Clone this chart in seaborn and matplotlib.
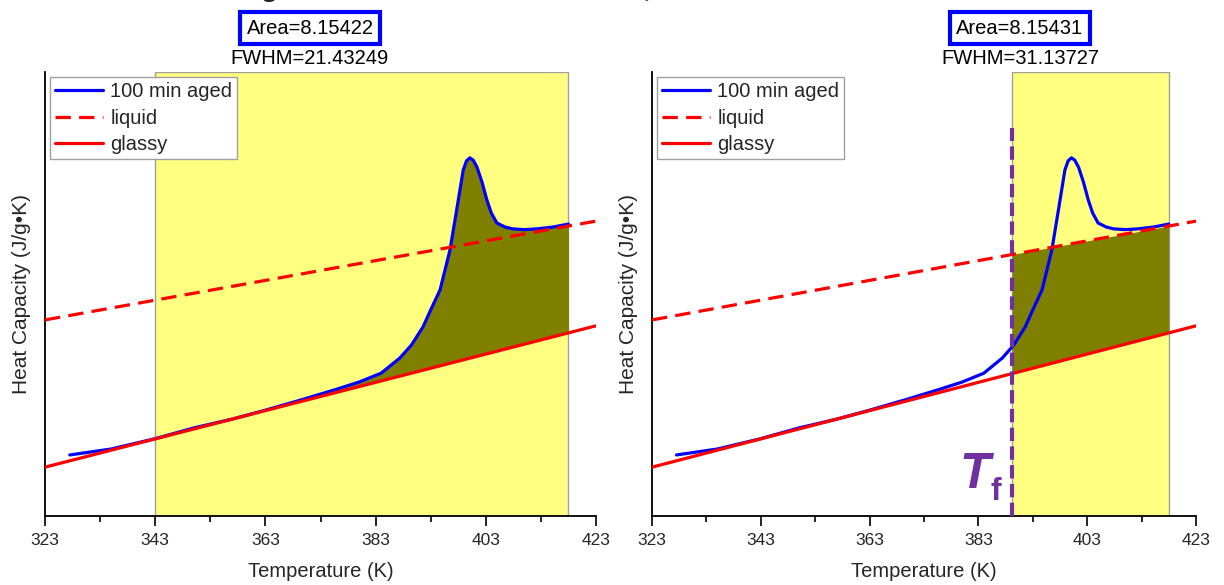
import numpy as np
import matplotlib
matplotlib.use("Agg")
import matplotlib.pyplot as plt
import seaborn as sns

# ---------------- data ----------------
T_aged = [327.5, 335, 343, 350, 357, 363, 370, 376, 380, 384, 387.4, 389.5,
          391.6, 393, 394.7, 396.5, 397.8, 398.9, 399.5, 400.1, 400.7, 401.4,
          402.3, 403.2, 404, 405, 406.5, 407.9, 410, 412.3, 415.2, 418]
cp_aged = [1.365, 1.381, 1.409, 1.438, 1.462, 1.486, 1.516, 1.543, 1.562, 1.586,
           1.627, 1.662, 1.711, 1.757, 1.811, 1.919, 2.035, 2.135, 2.160, 2.168,
           2.162, 2.143, 2.103, 2.054, 2.019, 1.992, 1.981, 1.976, 1.974, 1.976,
           1.981, 1.989]

T_line = [323, 423]
cp_liquid = [1.730, 1.997]
cp_glassy = [1.332, 1.714]

span_left = [343, 418]
Tf = 389.2
span_right = [Tf, 418]

areas = ["Area=8.15422", "Area=8.15431"]
fwhms = ["FWHM=21.43249", "FWHM=31.13727"]
xticks = [323, 343, 363, 383, 403, 423]
xlabel = "Temperature (K)"
ylabel = "Heat Capacity (J/g\u2022K)"

# ---------------- style ----------------
sns.set_theme(style="white")
plt.rcParams['font.family'] = ['Liberation Sans', 'DejaVu Sans']

BLUE = "#0000FF"
RED = "#FF0000"
YELLOW = "#FFFF80"
OLIVE = "#808000"
PURPLE = "#7030A0"

fig = plt.figure(figsize=(12.24, 5.85), dpi=100)
ax1 = fig.add_axes([45 / 1224, 1 - 516 / 585, 551 / 1224, 444 / 585])
ax2 = fig.add_axes([652 / 1224, 1 - 516 / 585, 544 / 1224, 444 / 585])

T_arr = np.array(T_aged)
cp_arr = np.array(cp_aged)


def glassy_at(t):
    return np.interp(t, T_line, cp_glassy)


def liquid_at(t):
    return np.interp(t, T_line, cp_liquid)


for i, ax in enumerate([ax1, ax2]):
    span = span_left if i == 0 else span_right
    ax.axvspan(span[0], span[1], facecolor=YELLOW, edgecolor="#A0A0A0",
               linewidth=1.0, zorder=0)
    if i == 0:
        m = T_arr >= span[0]
        ax.fill_between(T_arr[m], glassy_at(T_arr[m]), cp_arr[m],
                        color=OLIVE, linewidth=0, zorder=1)
    else:
        tt = np.array(span)
        ax.fill_between(tt, glassy_at(tt), liquid_at(tt),
                        color=OLIVE, linewidth=0, zorder=1)

    sns.lineplot(x=T_aged, y=cp_aged, ax=ax, color=BLUE, linewidth=2.3,
                 label="100 min aged", zorder=3)
    sns.lineplot(x=T_line, y=cp_liquid, ax=ax, color=RED, linewidth=2.3,
                 linestyle="--", label="liquid", zorder=3)
    ax.lines[-1].set_dashes([4.8, 2.6])
    sns.lineplot(x=T_line, y=cp_glassy, ax=ax, color=RED, linewidth=2.3,
                 label="glassy", zorder=3)

    ax.set_xlim(323, 423)
    ax.set_ylim(1.2, 2.4)
    ax.set_xticks(xticks)
    ax.set_xticks([333, 353, 373, 393, 413], minor=True)
    ax.set_yticks([])
    ax.tick_params(axis="x", which="major", direction="out", length=7,
                   width=1.2, color="black", labelsize=12.5, pad=5, bottom=True)
    ax.tick_params(axis="x", which="minor", direction="out", length=4,
                   width=1.2, color="black", bottom=True)
    for s in ["top", "right"]:
        ax.spines[s].set_visible(False)
    for s in ["left", "bottom"]:
        ax.spines[s].set_color("black")
        ax.spines[s].set_linewidth(1.3)
    ax.set_xlabel(xlabel, fontsize=14.5, labelpad=10)
    ax.set_ylabel(ylabel, fontsize=15, labelpad=10)
    ax.set_facecolor("white")

    leg = ax.legend(loc="upper left", fontsize=14.5, frameon=True,
                    fancybox=False, edgecolor="#A0A0A0", framealpha=1,
                    borderaxespad=0.25, handlelength=2.4, handletextpad=0.35,
                    labelspacing=0.38, borderpad=0.25)
    leg.get_frame().set_linewidth(1.0)

# Tf marker on right panel
ax2.plot([Tf, Tf], [1.2, 2.249], color=PURPLE, linewidth=3.0,
         dashes=[3.2, 1.3], zorder=4, solid_capstyle="butt")
ax2.text(379.6, 1.276, "T", color=PURPLE, fontsize=36, fontweight="bold",
         fontstyle="italic", ha="left", va="baseline", zorder=5)
ax2.text(385.3, 1.243, "f", color=PURPLE, fontsize=23, fontweight="bold",
         ha="left", va="baseline", zorder=5)

# titles
for xc, a, f in [(310, areas[0], fwhms[0]), (1020, areas[1], fwhms[1])]:
    fig.text(xc / 1224, 1 - 28 / 585, a, ha="center", va="center", fontsize=14.5,
             color="black",
             bbox=dict(boxstyle="square,pad=0.32", fc="white", ec=BLUE, lw=3))
    fig.text(xc / 1224, 1 - 59 / 585, f, ha="center", va="center",
             fontsize=14.5, color="black")

# fragments of a cropped caption at the very top
fig.text(262 / 1224, 1 + 4 / 585, "g", fontsize=20, fontweight="bold",
         fontstyle="italic", color="#202020", ha="left", va="baseline")
fig.text(645 / 1224, 1 + 5 / 585, ")", fontsize=20, color=PURPLE,
         ha="left", va="baseline")

fig.savefig("out.png", dpi=100, facecolor="white")
